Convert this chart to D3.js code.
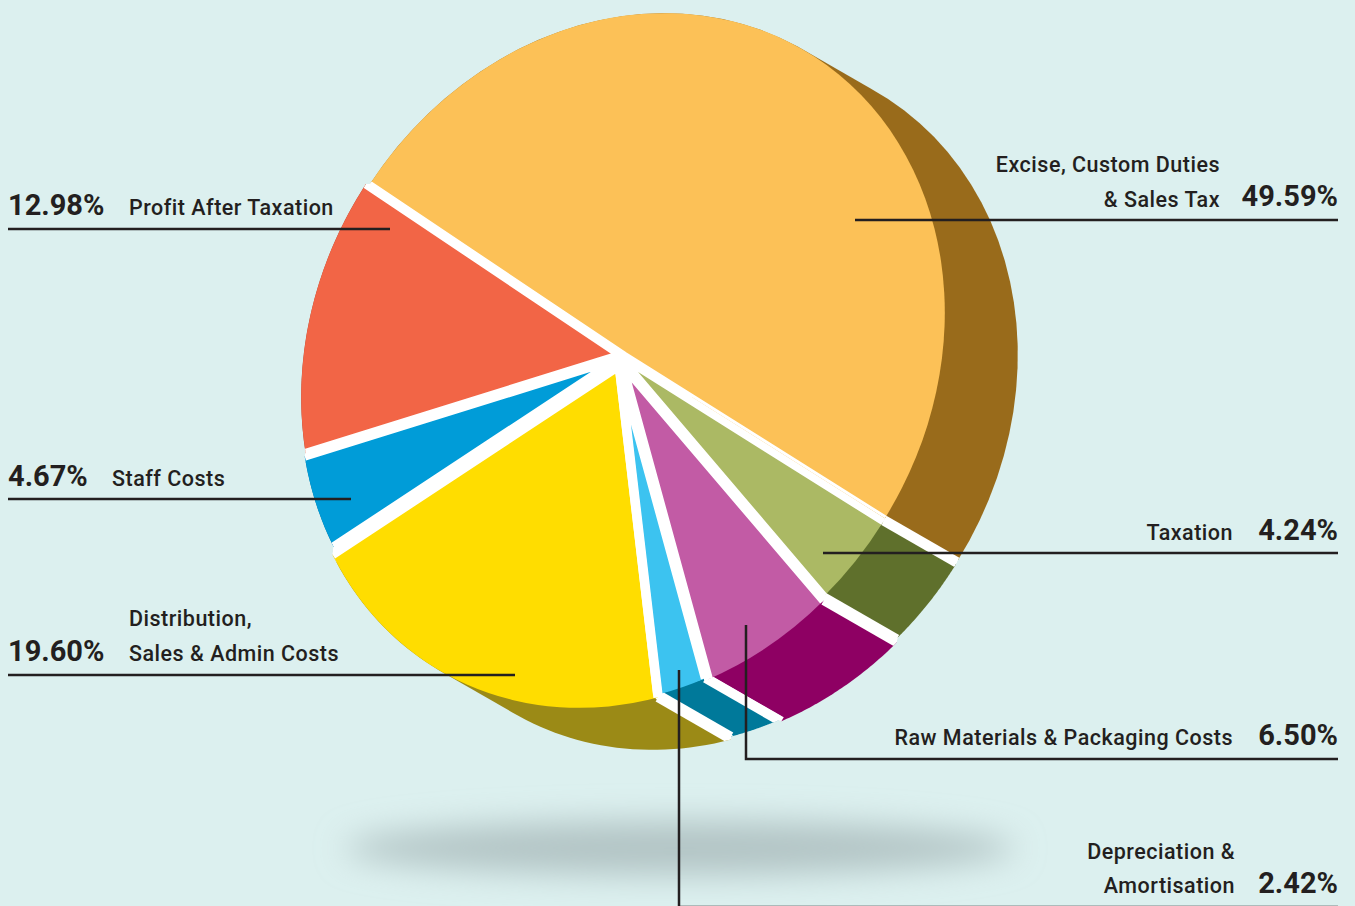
<!DOCTYPE html>
<html>
<head>
<meta charset="utf-8">
<script src="https://cdn.jsdelivr.net/npm/d3@7/dist/d3.min.js"></script>
<style>
html,body{margin:0;padding:0;background:#dcf0ef;overflow:hidden}
svg{display:block}
text{font-family:Roboto,sans-serif;fill:#231f20}
.name{font-size:21.5px;font-weight:500;letter-spacing:.5px}
.pct{font-size:29px;font-weight:700;letter-spacing:0}
</style>
</head>
<body>
<svg id="chart" width="1355" height="906"></svg>
<script>
// Cost shares, in drawing order counter-clockwise from the upper-left cut
const categories = ["Profit After Taxation","Staff Costs","Distribution, Sales & Admin Costs","Depreciation & Amortisation","Raw Materials & Packaging Costs","Taxation","Excise, Custom Duties & Sales Tax"];
const shares = [12.98,4.67,19.60,2.42,6.50,4.24,49.59];
const topColors = ["#f26546","#009cd8","#ffdd00","#3cc3f0","#c25ba5","#abb964","#fcc157"];
const sideColors = ["#a8442e","#006f9c","#9b8a16","#00799a","#8e0063","#5f702c","#996b1b"];
// How far each wedge is pulled away from the hub, and its white cut width
const shifts = [[1,0],[0,3],[-1,11],[-1,8],[2,9],[3,4],[5,0]];
const cutWidths = [9,9,9,9.5,9,6,6];

// Tilted disc: conjugate radii of the ellipse, centre and extrusion vector
const cx = 620, cy = 355;
const radA = [-255,-171], radB = [-193,296];
const depth = [73,42];

const svg = d3.select("#chart");
const defs = svg.append("defs");
defs.append("filter").attr("id","soft").attr("x","-20%").attr("y","-150%").attr("width","140%").attr("height","400%")
  .append("feGaussianBlur").attr("stdDeviation",16);

svg.append("rect").attr("width",1355).attr("height",906).attr("fill","#dcf0ef");
svg.append("ellipse").attr("cx",680).attr("cy",848).attr("rx",335).attr("ry",27)
  .attr("fill","#b2c4c5").attr("filter","url(#soft)");

const arcs = d3.pie().sort(null).value(d=>d)(shares);
const project = a=>[
  cx + Math.cos(a)*radA[0] + Math.sin(a)*radB[0],
  cy + Math.cos(a)*radA[1] + Math.sin(a)*radB[1]
];
const offset = d=>shifts[d.index];
const rim = (d,t)=>{
  const p=project(d.startAngle+(d.endAngle-d.startAngle)*t), o=offset(d);
  return [p[0]+o[0],p[1]+o[1]];
};
const apex = d=>{const o=offset(d);return [cx+o[0],cy+o[1]];};
const arcPath = d3.arc().innerRadius(0).outerRadius(1000);
const line = d3.line();
const moved = p=>[p[0]+depth[0],p[1]+depth[1]];

// Swept hull of each wedge along the depth vector, and the strips between neighbours
const wedgePts = d=>[apex(d),...d3.range(0,1.0001,1/48).map(t=>rim(d,t))];
const hullPath = d=>{
  const pts=wedgePts(d);
  return line(d3.polygonHull([...pts,...pts.map(moved)]))+"Z";
};
const stripPath = (d,i)=>{
  const a=rim(d,1), b=rim(arcs[(i+1)%arcs.length],0);
  return line([a,moved(a),moved(b),b])+"Z";
};

// White cuts stay inside the solid's silhouette
const clip = defs.append("clipPath").attr("id","solid");
clip.selectAll("path.h").data(arcs).join("path").attr("class","h").attr("d",hullPath);
clip.selectAll("path.s").data(arcs).join("path").attr("class","s").attr("d",stripPath);

svg.append("g").selectAll("path").data(arcs).join("path")
  .attr("d",hullPath)
  .attr("fill",d=>sideColors[d.index]);

const edges = svg.append("g").attr("clip-path","url(#solid)");
edges.selectAll("path.s").data(arcs).join("path").attr("class","s").attr("d",stripPath).attr("fill","#fff");
arcs.forEach(d=>{
  [0,1].forEach(t=>{
    const p=rim(d,t);
    edges.append("path").attr("d",line([p,moved(p)])).attr("fill","none")
      .attr("stroke","#fff").attr("stroke-width",cutWidths[d.index]);
  });
});

// White underlay so the gaps between pulled-apart wedges stay clean
svg.append("path")
  .attr("d",line(arcs.flatMap(d=>[rim(d,0),rim(d,1)]))+"Z")
  .attr("fill","#fff");

// Top faces: d3.arc wedges pushed through the ellipse's affine map
svg.append("g").selectAll("path").data(arcs).join("path")
  .attr("d",arcPath)
  .attr("fill",d=>topColors[d.index])
  .attr("transform",d=>{
    const o=offset(d), s=0.001;
    return `matrix(${radB[0]*s},${radB[1]*s},${-radA[0]*s},${-radA[1]*s},${cx+o[0]},${cy+o[1]})`;
  });
const cuts = svg.append("g").attr("clip-path","url(#solid)").attr("fill","none").attr("stroke","#fff").attr("stroke-linejoin","round");
arcs.forEach(d=>{
  cuts.append("path").attr("d",line([rim(d,0),apex(d),rim(d,1)])).attr("stroke-width",cutWidths[d.index]);
});

// Leader lines and labels
const leaders = [
  [[8,229],[390,229]],
  [[8,499],[351,499]],
  [[8,675],[515,675]],
  [[679,670],[679,907],[1338,907]],
  [[746,625],[746,759],[1338,759]],
  [[823,553],[1338,553]],
  [[855,220],[1338,220]]
];
svg.append("g").selectAll("path").data(leaders).join("path")
  .attr("d",d=>line(d)).attr("fill","none").attr("stroke","#231f20").attr("stroke-width",2.5);

const nameLabels = [
  ["Profit After Taxation",129,215,"start"],
  ["Staff Costs",112,486,"start"],
  ["Distribution,",129,626,"start"],
  ["Sales & Admin Costs",129,661,"start"],
  ["Depreciation &",1235,859,"end"],
  ["Amortisation",1235,893,"end"],
  ["Raw Materials & Packaging Costs",1233,745,"end"],
  ["Taxation",1233,540,"end"],
  ["Excise, Custom Duties",1220,172,"end"],
  ["& Sales Tax",1220,207,"end"]
];
const pctLabels = [
  [0,8,215,"start"],[1,8,486,"start"],[2,8,661,"start"],
  [3,1338,893,"end"],[4,1338,745,"end"],[5,1338,540,"end"],[6,1338,206,"end"]
];
svg.append("g").selectAll("text").data(nameLabels).join("text").attr("class","name")
  .attr("x",d=>d[1]).attr("y",d=>d[2]).attr("text-anchor",d=>d[3]).text(d=>d[0]);
svg.append("g").selectAll("text").data(pctLabels).join("text").attr("class","pct")
  .attr("x",d=>d[1]).attr("y",d=>d[2]).attr("text-anchor",d=>d[3])
  .text(d=>shares[d[0]].toFixed(2)+"%");
</script>
</body>
</html>
